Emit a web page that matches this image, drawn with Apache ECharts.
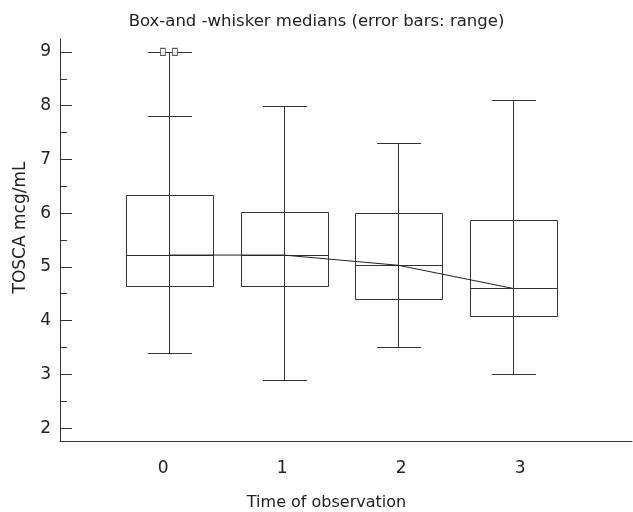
<!DOCTYPE html>
<html>
<head>
<meta charset="utf-8">
<script src="https://cdn.jsdelivr.net/npm/echarts@6/dist/echarts.min.js"></script>
<style>
  html, body { margin: 0; background: #fff; }
  #chart { width: 633px; height: 512px; }
</style>
</head>
<body>
<div id="chart"></div>
<script>
// box-and-whisker summary per observation time
const times = [0, 1, 2, 3];
const mins = [3.4, 2.9, 3.5, 3.0];
const q1s = [4.65, 4.65, 4.4, 4.08];
const medians = [5.22, 5.22, 5.03, 4.6];
const q3s = [6.33, 6.02, 6.01, 5.87];
const maxes = [9.0, 8.0, 7.3, 8.1];

// extra whisker mark and outliers at time 0
const extraCapTimes = [0];
const extraCapValues = [7.8];
const outlierTimes = [0, 0];
const outlierValues = [9, 9];

// axis ticks
const yTicks = [2, 3, 4, 5, 6, 7, 8, 9];
const yMinorTicks = [2.5, 3.5, 4.5, 5.5, 6.5, 7.5, 8.5];

const FONT = 'DejaVu Sans';
const INK = '#333';
const TEXT = '#222';
const BOX_HALF = 43.5;
const CAP_HALF = 22;

const crisp = v => Math.round(v) + 0.5;

const chart = echarts.init(document.getElementById('chart'));

const boxData = times.map((t, i) => [t, mins[i], q1s[i], medians[i], q3s[i], maxes[i]]);

function hline(cx, y, half) {
  return {
    type: 'line',
    shape: { x1: Math.round(cx - half), y1: crisp(y), x2: Math.round(cx + half), y2: crisp(y) },
    style: { stroke: INK, lineWidth: 1 }
  };
}

function renderBox(params, api) {
  const x = api.value(0);
  const pMin = api.coord([x, api.value(1)]);
  const pQ1 = api.coord([x, api.value(2)]);
  const pMed = api.coord([x, api.value(3)]);
  const pQ3 = api.coord([x, api.value(4)]);
  const pMax = api.coord([x, api.value(5)]);
  const cx = crisp(pMin[0]);
  const top = crisp(pQ3[1]);
  const bottom = crisp(pQ1[1]);
  return {
    type: 'group',
    children: [
      {
        type: 'line',
        shape: { x1: cx, y1: crisp(pMin[1]), x2: cx, y2: crisp(pMax[1]) },
        style: { stroke: INK, lineWidth: 1 }
      },
      {
        type: 'rect',
        shape: { x: crisp(cx - BOX_HALF), y: top, width: BOX_HALF * 2, height: bottom - top },
        style: { fill: 'none', stroke: INK, lineWidth: 1 }
      },
      hline(cx, pMed[1], BOX_HALF),
      hline(cx, pMin[1], CAP_HALF),
      hline(cx, pMax[1], CAP_HALF)
    ]
  };
}

function renderCap(params, api) {
  const p = api.coord([api.value(0), api.value(1)]);
  return hline(crisp(p[0]), p[1], CAP_HALF);
}

const option = {
  animation: false,
  backgroundColor: '#fff',
  title: {
    text: 'Box-and -whisker medians (error bars: range)',
    left: 'center',
    top: 8,
    textStyle: { fontFamily: FONT, fontSize: 16.5, fontWeight: 'normal', color: TEXT }
  },
  grid: { left: 60, right: 1, top: 39, bottom: 71, outerBoundsMode: 'none' },
  xAxis: [
    {
      type: 'value',
      min: -0.95,
      max: 4.04,
      name: 'Time of observation',
      nameLocation: 'middle',
      nameGap: 54,
      nameTextStyle: { fontFamily: FONT, fontSize: 16, color: TEXT, padding: [0, 39, 0, 0] },
      axisLine: { onZero: false, lineStyle: { color: INK, width: 1 } },
      axisTick: { show: false },
      splitLine: { show: false },
      axisLabel: { show: false }
    },
    {
      // label-only axis: the reference spreads its time labels slightly wider than the boxes
      type: 'value',
      position: 'bottom',
      min: -0.866,
      max: 3.94,
      axisLine: { show: false, onZero: false },
      axisTick: { show: false },
      splitLine: { show: false },
      axisLabel: {
        customValues: times,
        margin: 19,
        fontFamily: FONT,
        fontSize: 17,
        color: TEXT
      }
    }
  ],
  yAxis: [
    {
      type: 'value',
      position: 'left',
      min: 1.76,
      max: 9.24,
      name: 'TOSCA mcg/mL',
      nameLocation: 'middle',
      nameGap: 30,
      nameRotate: 90,
      nameTextStyle: { fontFamily: FONT, fontSize: 17, color: TEXT, padding: [0, 0, 0, 25] },
      axisLine: { show: true, onZero: false, lineStyle: { color: INK, width: 1 } },
      axisTick: { show: true, inside: true, length: 12, customValues: yTicks, lineStyle: { color: INK } },
      axisLabel: {
        customValues: yTicks,
        margin: 9,
        fontFamily: FONT,
        fontSize: 17,
        color: TEXT
      },
      splitLine: { show: false }
    },
    {
      type: 'value',
      position: 'left',
      min: 1.76,
      max: 9.24,
      axisLine: { show: false, onZero: false },
      axisTick: { show: true, inside: true, length: 7, customValues: yMinorTicks, lineStyle: { color: INK } },
      axisLabel: { show: false },
      splitLine: { show: false }
    }
  ],
  series: [
    {
      type: 'custom',
      renderItem: renderBox,
      data: boxData,
      encode: { x: 0, y: [1, 2, 3, 4, 5] },
      z: 3
    },
    {
      type: 'custom',
      renderItem: renderCap,
      data: extraCapTimes.map((t, i) => [t, extraCapValues[i]]),
      encode: { x: 0, y: 1 },
      z: 3
    },
    {
      type: 'line',
      data: times.map((t, i) => [t, medians[i]]),
      symbol: 'none',
      lineStyle: { color: '#222', width: 1 },
      z: 4
    },
    {
      type: 'scatter',
      data: outlierTimes.map((t, i) => ({
        value: [t, outlierValues[i]],
        symbolOffset: [i % 2 ? 6 : -6, 0]
      })),
      symbol: 'rect',
      symbolSize: [5, 7],
      itemStyle: { color: '#fff', borderColor: INK, borderWidth: 1 },
      z: 5
    }
  ]
};

chart.setOption(option);
</script>
</body>
</html>
